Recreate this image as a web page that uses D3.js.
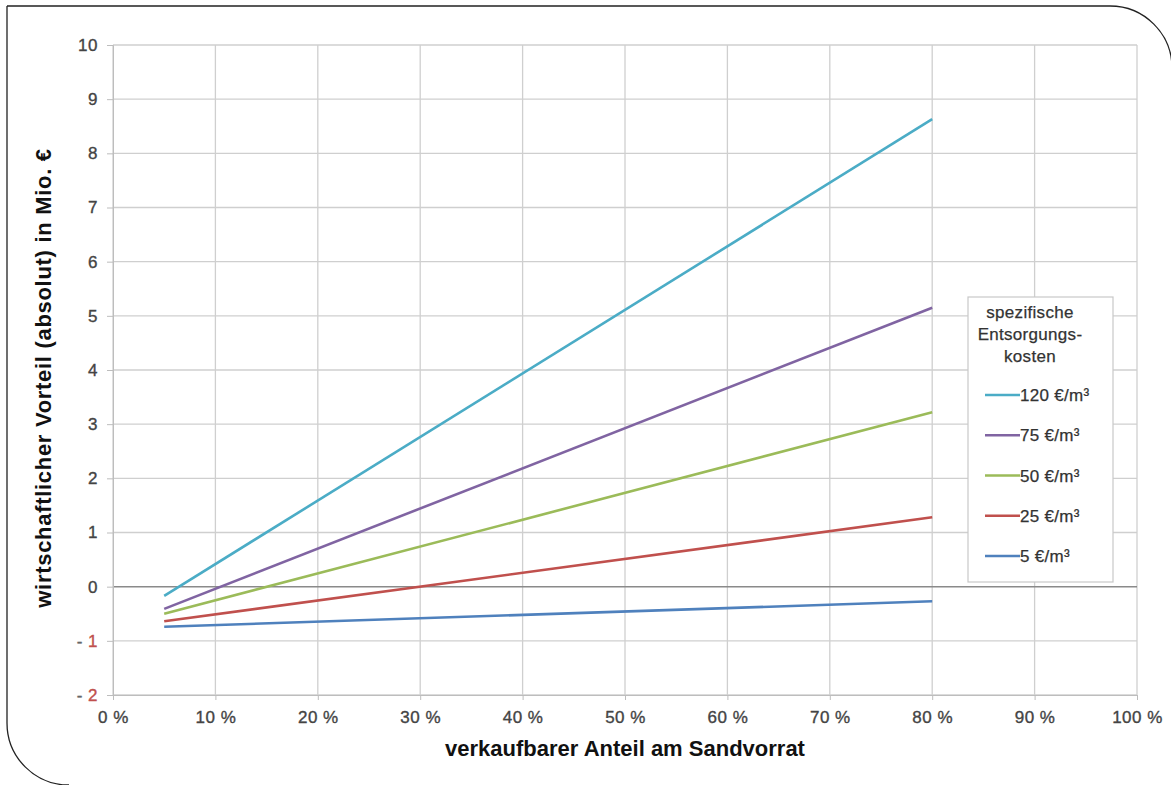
<!DOCTYPE html>
<html><head><meta charset="utf-8">
<script src="https://cdn.jsdelivr.net/npm/d3@7"></script>
<style>
html,body{margin:0;padding:0;background:#fff;}
text{font-family:"Liberation Sans",Arial,sans-serif;}
</style></head>
<body>
<svg id="chart" width="1171" height="785"></svg>
<script>
// ---- data ----
const xShares = [0.05, 0.80];                 // verkaufbarer Anteil (start, end)
const series120 = [-0.17, 8.63];
const series75  = [-0.41, 5.15];
const series50  = [-0.50, 3.22];
const series25  = [-0.64, 1.28];
const series5   = [-0.74, -0.27];
const seriesNames = ["120 €/m³", "75 €/m³", "50 €/m³", "25 €/m³", "5 €/m³"];
const seriesColors = ["#4bacc6", "#8064a2", "#9bbb59", "#c0504d", "#4f81bd"];
const xTicks = [0,0.1,0.2,0.3,0.4,0.5,0.6,0.7,0.8,0.9,1.0];
const yTicks = [-2,-1,0,1,2,3,4,5,6,7,8,9,10];
const legendTitle = ["spezifische", "Entsorgungs-", "kosten"];
const xTitle = "verkaufbarer Anteil am Sandvorrat";
const yTitle = "wirtschaftlicher Vorteil (absolut) in Mio. €";

const allSeries = [series120, series75, series50, series25, series5];
const FONT = "Liberation Sans, Arial, sans-serif";

const svg = d3.select("#chart");

// frame
svg.append("path")
  .attr("d", "M7,6 L1110,6 A62,62 0 0 1 1172,68 M7,6 L7,723 A62,62 0 0 0 69,785")
  .attr("fill","none").attr("stroke","#222").attr("stroke-width",1.3);

const x = d3.scaleLinear().domain([0,1]).range([113,1137]);
const y = d3.scaleLinear().domain([-2,10]).range([695,45]);

// grid
const g = svg.append("g");
g.selectAll(".vg").data(xTicks).join("line")
  .attr("x1",d=>x(d)).attr("x2",d=>x(d)).attr("y1",y(10)).attr("y2",y(-2))
  .attr("stroke","#cfcfcf").attr("stroke-width",1.3);
g.selectAll(".hg").data(yTicks).join("line")
  .attr("x1",x(0)).attr("x2",x(1)).attr("y1",d=>y(d)).attr("y2",d=>y(d))
  .attr("stroke",d=>d===0?"#8a8a8a":"#cfcfcf").attr("stroke-width",d=>d===0?1.5:1.3);

// axes
const yAxis = d3.axisLeft(y).tickValues(yTicks).tickSize(6).tickPadding(9)
  .tickFormat(d=>d<0?"- "+Math.abs(d):String(d));
const ya = svg.append("g").attr("transform",`translate(${x(0)},0)`).call(yAxis);
ya.select(".domain").attr("stroke","#bdbdbd");
ya.selectAll(".tick line").attr("stroke","#bdbdbd");
ya.selectAll(".tick text").attr("font-size",17).attr("letter-spacing",0.5).attr("fill","#444")
  .attr("stroke","#444").attr("stroke-width",0.35).attr("font-family",FONT)
  .each(function(d){
    if(d<0){
      const t=d3.select(this); t.text(null);
      t.append("tspan").attr("fill","#666").attr("stroke","#666").text("- ");
      t.append("tspan").attr("fill","#c0504d").attr("stroke","#c0504d").text(Math.abs(d));
    }
  });

const xAxis = d3.axisBottom(x).tickValues(xTicks).tickSize(5).tickPadding(11)
  .tickFormat(d=>Math.round(d*100)+" %");
const xa = svg.append("g").attr("transform",`translate(0,${y(-2)})`).call(xAxis);
xa.select(".domain").attr("stroke","#bdbdbd");
xa.selectAll(".tick line").attr("stroke","#bdbdbd");
xa.selectAll(".tick text").attr("font-size",17).attr("letter-spacing",0.5).attr("fill","#444")
  .attr("stroke","#444").attr("stroke-width",0.35).attr("font-family",FONT);

// lines
const line = d3.line().x((d,i)=>x(xShares[i])).y(d=>y(d));
svg.selectAll(".series").data(allSeries).join("path")
  .attr("d",d=>line(d)).attr("fill","none")
  .attr("stroke",(d,i)=>seriesColors[i]).attr("stroke-width",2.6);

// titles
svg.append("text").attr("x",625).attr("y",756).attr("text-anchor","middle")
  .attr("font-size",22).attr("font-weight","bold").attr("fill","#111").text(xTitle);
svg.append("text").attr("transform","translate(51,378) rotate(-90)").attr("text-anchor","middle")
  .attr("font-size",22).attr("font-weight","bold").attr("letter-spacing",0.7).attr("fill","#111").text(yTitle);

// legend
const lg = svg.append("g");
lg.append("rect").attr("x",968).attr("y",297).attr("width",145).attr("height",285)
  .attr("fill","#fff").attr("stroke","#c8c8c8").attr("stroke-width",1.2);
lg.selectAll(".lt").data(legendTitle).join("text")
  .attr("x",1030).attr("y",(d,i)=>318+i*22).attr("text-anchor","middle")
  .attr("font-size",17).attr("letter-spacing",0.3).attr("fill","#333")
  .attr("stroke","#333").attr("stroke-width",0.25).text(d=>d);
const ly = d3.scalePoint().domain(seriesNames).range([395,556]);
const items = lg.selectAll(".li").data(seriesNames).join("g")
  .attr("transform",d=>`translate(0,${ly(d)})`);
items.append("line").attr("x1",985).attr("x2",1020).attr("y1",0).attr("y2",0)
  .attr("stroke",(d,i)=>seriesColors[i]).attr("stroke-width",2.6);
items.append("text").attr("x",1020).attr("y",6).attr("font-size",17).attr("letter-spacing",0.3).attr("fill","#333")
  .attr("stroke","#333").attr("stroke-width",0.25).text(d=>d);
</script>
</body></html>
